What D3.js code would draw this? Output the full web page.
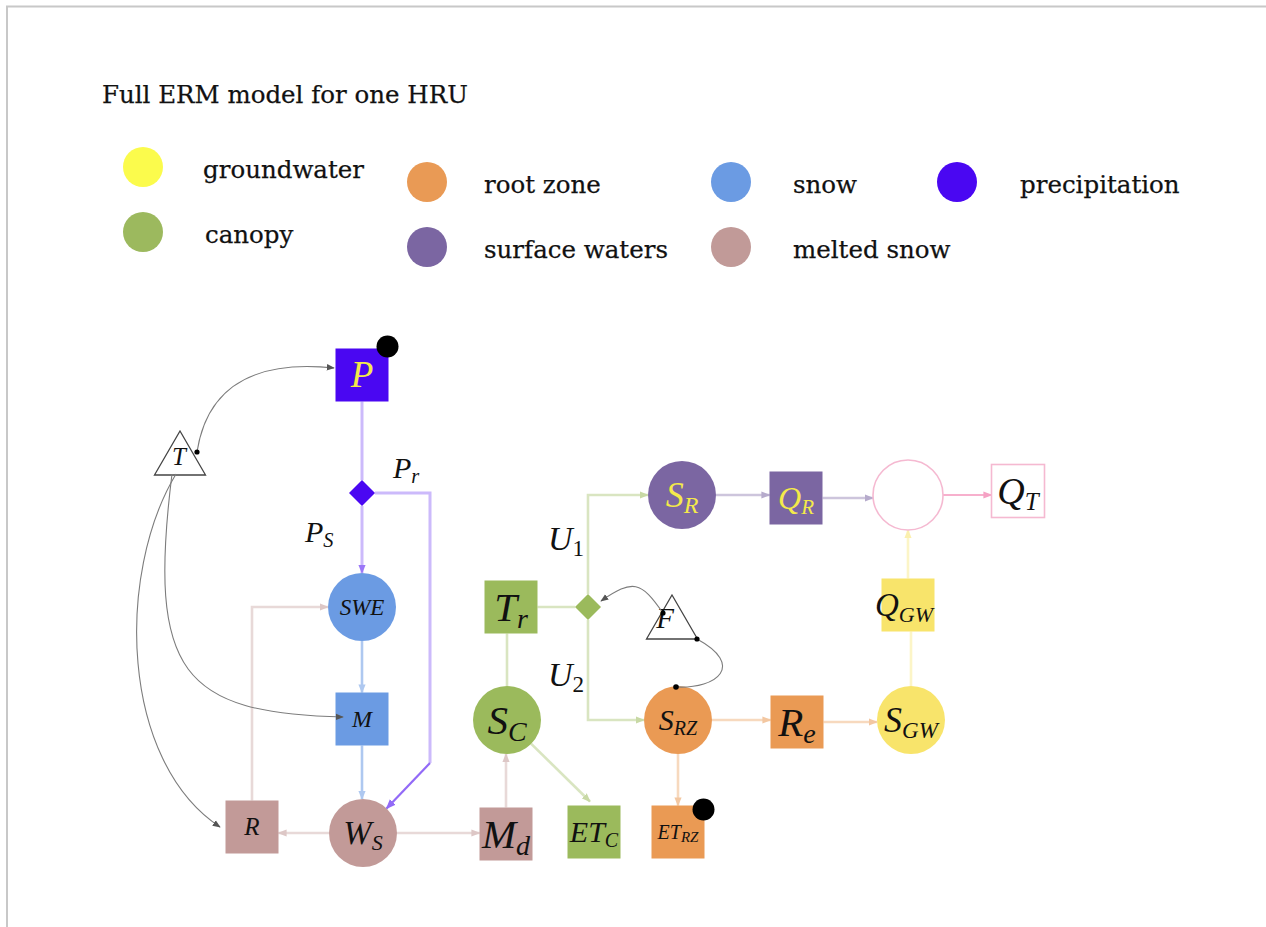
<!DOCTYPE html>
<html>
<head>
<meta charset="utf-8">
<script src="https://cdn.jsdelivr.net/npm/d3@7"></script>
<style>
  html, body { margin: 0; padding: 0; background: #fff; }
  svg { display: block; }
</style>
</head>
<body>
<div id="chart"></div>
<script>
// ---- data ----
const title = "Full ERM model for one HRU";

const legendLabels = ["groundwater", "canopy", "root zone", "surface waters", "snow", "melted snow", "precipitation"];
const legendColors = ["#fbfb4c", "#9cb95e", "#e99a55", "#7b66a2", "#6b9be3", "#c19a98", "#4a07f2"];

const nodeIds   = ["P", "D1", "SWE", "M", "WS", "R", "Md", "SC", "Tr", "ETC", "D2", "SR", "QR", "Sum", "QT", "SRZ", "Re", "SGW", "QGW", "ETRZ", "T", "F"];
const nodeMain  = ["P", "", "SWE", "M", "W", "R", "M", "S", "T", "ET", "", "S", "Q", "", "Q", "S", "R", "S", "Q", "ET", "T", "F"];
const nodeSub   = ["", "", "", "", "S", "", "d", "C", "r", "C", "", "R", "R", "", "T", "RZ", "e", "GW", "GW", "RZ", "", ""];
const nodeShape = ["square", "diamond", "circle", "square", "circle", "square", "square", "circle", "square", "square", "diamond",
                   "circle", "square", "ring", "box", "circle", "square", "circle", "square", "square", "triangle", "triangle"];
const nodeGroup = ["precipitation", "precipitation", "snow", "snow", "melted snow", "melted snow", "melted snow",
                   "canopy", "canopy", "canopy", "canopy", "surface waters", "surface waters", "total", "total",
                   "root zone", "root zone", "groundwater", "groundwater", "root zone", "driver", "driver"];
const stateNodes = ["P", "ETRZ"];   // nodes flagged with a black dot

const edgeFrom  = ["P", "D1", "D1", "SWE", "M", "WS", "WS", "R", "Md", "SC", "SC", "Tr", "D2", "D2", "SR", "QR", "Sum", "SRZ", "Re", "SRZ", "SGW", "QGW"];
const edgeTo    = ["D1", "SWE", "WS", "M", "WS", "R", "Md", "SWE", "SC", "Tr", "ETC", "D2", "SR", "SRZ", "QR", "Sum", "QT", "Re", "SGW", "ETRZ", "QGW", "Sum"];
const edgeArrow = [false, true, true, true, true, true, true, true, true, false, true, false, true, true, true, true, true, true, true, true, false, true];
const edgeRoute = ["line", "line", "pr", "line", "line", "line", "line", "vh", "line", "line", "top", "line", "vh", "vh", "line", "line", "line", "line", "line", "line", "line", "line"];

const driverFrom = ["T", "T", "T", "F", "F"];
const driverTo   = ["P", "M", "R", "D2", "SRZ"];

const flowMain = ["P", "P", "U", "U"];
const flowSub  = ["r", "S", "1", "2"];

// ---- layout (diagram grid units) ----
const layout = {
  P: [26.2, 7.5], D1: [26.2, 19.3], SWE: [26.2, 30.7], M: [26.2, 41.9], WS: [26.3, 53.3],
  R: [15.2, 52.7], Md: [40.6, 53.4], SC: [40.7, 42.0], Tr: [41.1, 30.7], ETC: [49.4, 53.2],
  D2: [48.8, 30.7], SR: [58.2, 19.5], QR: [69.6, 19.8], Sum: [80.8, 19.5], QT: [91.8, 19.1],
  SRZ: [57.8, 42.0], Re: [69.7, 42.2], SGW: [81.1, 42.0], QGW: [80.8, 30.5], ETRZ: [57.8, 53.2],
  T: [8.0, 16.0], F: [57.2, 32.4]
};
const prBend = [33.0, 46.3];
const flowPos = [[29.3, 17.8], [20.5, 24.2], [44.8, 25.0], [44.8, 38.6]];

const legendCol = [14.3, 42.7, 73.1, 95.7];   // x of circle, in tens of px
const legendRow = [18.2, 24.7];
const legendCell = [[0, 0], [0, 1], [1, 0], [1, 1], [2, 0], [2, 1], [3, 0]];
const legendGap = [60, 57, 62, 63];

// ---- styles ----
const groupColor = {
  groundwater: "#f8e46b", canopy: "#9bba5c", "root zone": "#ea9a54", "surface waters": "#7b66a2",
  snow: "#6b9be3", "melted snow": "#c29a98", precipitation: "#4a07f2", total: "#f07aaa", driver: "#777"
};
const labelSize = {
  P: [37], SWE: [23], M: [24], WS: [34, 22], R: [25], Md: [41, 28], SC: [41, 28], Tr: [41, 28],
  ETC: [30, 20], SR: [36, 24], QR: [32, 21], QT: [38, 25], SRZ: [30, 20], Re: [41, 28],
  SGW: [36, 23], QGW: [33, 22], ETRZ: [20, 15], T: [25], F: [29]
};
const yellowLabels = ["P", "SR", "QR"];
const SQ = 53, RC = 34, RSUM = 35, DIA = 13;
const mathFont = "'Liberation Serif', 'Times New Roman', serif";
const textFont = "'DejaVu Serif', serif";

const W = 1266, H = 927;
const svg = d3.select("#chart").append("svg").attr("width", W).attr("height", H);
const defs = svg.append("defs");

// page frame (top and left edge)
svg.append("path")
  .attr("d", `M7,${H} V6.5 H${W}`)
  .attr("fill", "none")
  .attr("stroke", "#c8c8c8")
  .attr("stroke-width", 2);

svg.append("text")
  .attr("x", 102).attr("y", 103)
  .attr("font-family", textFont)
  .attr("font-size", 24.5)
  .attr("fill", "#111")
  .attr("stroke", "#111").attr("stroke-width", 0.25)
  .text(title);

// legend
const lx = d3.scaleLinear().domain([0, 10]).range([0, 100]);
legendLabels.forEach((label, i) => {
  const [c, r] = legendCell[i];
  const cx = lx(legendCol[c]);
  const cy = lx(legendRow[r]) - (c === 0 ? 15 : 0);
  svg.append("circle").attr("cx", cx).attr("cy", cy).attr("r", 20).attr("fill", legendColors[i]);
  svg.append("text")
    .attr("x", cx + legendGap[c] + (i === 1 ? 2 : 0)).attr("y", cy + 11)
    .attr("font-family", textFont)
    .attr("font-size", 24.5)
    .attr("fill", "#111")
    .attr("stroke", "#111").attr("stroke-width", 0.25)
    .text(label);
});

// ---- diagram ----
const x = d3.scaleLinear().domain([0, 100]).range([100, 1100]);
const y = d3.scaleLinear().domain([0, 60]).range([300, 900]);
const idx = id => nodeIds.indexOf(id);
const pos = id => ({ x: x(layout[id][0]), y: y(layout[id][1]) });
const shapeOf = id => nodeShape[idx(id)];
const light = (c, k) => d3.interpolateRgb(c, "#fff")(k);

function boundary(id, tx, ty) {
  const c = pos(id), s = shapeOf(id);
  const dx = tx - c.x, dy = ty - c.y;
  let t;
  if (s === "circle") t = RC / Math.hypot(dx, dy);
  else if (s === "ring") t = RSUM / Math.hypot(dx, dy);
  else if (s === "diamond") t = DIA / (Math.abs(dx) + Math.abs(dy));
  else t = (SQ / 2) / Math.max(Math.abs(dx), Math.abs(dy));
  return { x: c.x + dx * t, y: c.y + dy * t };
}

let markerCount = 0;
function marker(color, size) {
  const id = "arr" + (markerCount++);
  defs.append("marker")
    .attr("id", id)
    .attr("viewBox", "0 -5 10 10")
    .attr("refX", 9).attr("refY", 0)
    .attr("markerWidth", size).attr("markerHeight", size)
    .attr("markerUnits", "userSpaceOnUse")
    .attr("orient", "auto")
    .append("path")
    .attr("d", "M0,-4L10,0L0,4Z")
    .attr("fill", color);
  return `url(#${id})`;
}

const edgeLayer = svg.append("g");
edgeFrom.forEach((from, i) => {
  const to = edgeTo[i];
  const group = nodeGroup[idx(from)];
  const base = groupColor[group];
  const mix = group === "precipitation" ? 0.72 : (group === "snow" ? 0.45 : 0.62);
  const stroke = from === "Sum" ? "#f7b0cd" : light(base, mix);
  const width = group === "precipitation" ? 3 : (from === "Sum" ? 1.8 : 2.6);
  const a = pos(from), b = pos(to);
  const p = d3.path();
  let tail = null;
  if (edgeRoute[i] === "vh") {
    const up = b.y < a.y;
    const s = boundary(from, a.x, up ? a.y - 100 : a.y + 100);
    const e = boundary(to, b.x - 100, b.y);
    p.moveTo(s.x, s.y); p.lineTo(s.x, b.y); p.lineTo(e.x, e.y);
  } else if (edgeRoute[i] === "pr") {
    const s = boundary(from, a.x + 100, a.y);
    const bx = x(prBend[0]), by = y(prBend[1]);
    const e = boundary(to, bx, by);
    p.moveTo(s.x, s.y); p.lineTo(bx, s.y); p.lineTo(bx, by);
    tail = { x1: bx, y1: by, x2: e.x, y2: e.y };
  } else if (edgeRoute[i] === "top") {
    const tx = b.x, ty = b.y - SQ / 2;
    const s = boundary(from, tx, ty);
    p.moveTo(s.x, s.y); p.lineTo(tx - 4, ty - 4);
  } else {
    let tx = b.x, ty = b.y;
    if (Math.abs(b.y - a.y) < 8) ty = a.y;
    if (Math.abs(b.x - a.x) < 8) tx = a.x;
    const s = boundary(from, tx, ty);
    let e = boundary(to, a.x, a.y);
    if (ty === a.y) e = { x: e.x, y: a.y };
    if (tx === a.x) e = { x: a.x, y: e.y };
    if (shapeOf(to) === "box") e = { x: b.x - SQ / 2, y: a.y };
    p.moveTo(s.x, s.y); p.lineTo(e.x, e.y);
  }
  const path = edgeLayer.append("path")
    .attr("d", p.toString())
    .attr("fill", "none")
    .attr("stroke", stroke)
    .attr("stroke-width", width)
    .attr("stroke-linejoin", "miter");
  if (tail) {
    const dark = light(base, 0.4);
    edgeLayer.append("line")
      .attr("x1", tail.x1).attr("y1", tail.y1).attr("x2", tail.x2).attr("y2", tail.y2)
      .attr("stroke", dark).attr("stroke-width", 2.2)
      .attr("marker-end", marker(dark, 10));
  } else if (edgeArrow[i]) {
    path.attr("marker-end", marker(light(base, from === "Sum" ? 0.3 : 0.45), 9));
  }
});

// nodes
const nodeLayer = svg.append("g");
nodeIds.forEach((id, i) => {
  const c = pos(id), s = nodeShape[i];
  const fill = groupColor[nodeGroup[i]];
  if (s === "square") {
    nodeLayer.append("rect").attr("x", c.x - SQ / 2).attr("y", c.y - SQ / 2)
      .attr("width", SQ).attr("height", SQ).attr("fill", fill);
  } else if (s === "box") {
    nodeLayer.append("rect").attr("x", c.x - SQ / 2).attr("y", c.y - SQ / 2)
      .attr("width", SQ).attr("height", SQ).attr("fill", "#fff")
      .attr("stroke", "#f5b9d1").attr("stroke-width", 1.6);
  } else if (s === "circle") {
    nodeLayer.append("circle").attr("cx", c.x).attr("cy", c.y).attr("r", RC).attr("fill", fill);
  } else if (s === "ring") {
    nodeLayer.append("circle").attr("cx", c.x).attr("cy", c.y).attr("r", RSUM)
      .attr("fill", "#fff").attr("stroke", "#f5b9d1").attr("stroke-width", 1.6);
  } else if (s === "diamond") {
    nodeLayer.append("path")
      .attr("d", `M${c.x},${c.y - DIA}L${c.x + DIA},${c.y}L${c.x},${c.y + DIA}L${c.x - DIA},${c.y}Z`)
      .attr("fill", fill);
  } else if (s === "triangle") {
    nodeLayer.append("path")
      .attr("d", `M${c.x},${c.y - 29}L${c.x + 25.5},${c.y + 15}L${c.x - 25.5},${c.y + 15}Z`)
      .attr("fill", "none").attr("stroke", "#444").attr("stroke-width", 1.3);
  }
});

// node labels
function mathLabel(main, sub, size, subSize, color, cx, baseline) {
  const t = nodeLayer.append("text")
    .attr("x", cx).attr("y", baseline)
    .attr("text-anchor", "middle")
    .attr("font-family", mathFont)
    .attr("font-style", "italic")
    .attr("fill", color);
  t.append("tspan").attr("font-size", size).text(main);
  if (sub) {
    t.append("tspan")
      .attr("font-size", subSize)
      .attr("dy", size * 0.17)
      .attr("font-style", /\d/.test(sub) ? "normal" : "italic")
      .text(sub);
  }
  return t;
}

nodeIds.forEach((id, i) => {
  if (!nodeMain[i]) return;
  const c = pos(id);
  const [size, subSize] = labelSize[id];
  const color = yellowLabels.includes(id) ? "#f4ea4a" : "#111";
  const dx = id === "F" ? -7 : (id === "T" ? -1 : (id === "QGW" ? -4 : 0));
  const dy = id === "F" ? -6 : (id === "T" ? -3 : 0);
  mathLabel(nodeMain[i], nodeSub[i], size, subSize, color, c.x + dx, c.y + dy + size * 0.33);
});

// black state dots
stateNodes.forEach(id => {
  const c = pos(id);
  nodeLayer.append("circle")
    .attr("cx", c.x + SQ / 2 - 1).attr("cy", c.y - SQ / 2 + (id === "P" ? -2 : 4))
    .attr("r", 11).attr("fill", "#000");
});

// driver curves (temperature T and F)
const curveGeom = {
  "T-P":   { s: [17, -8],  e: [-28, -7], c1: [8, -52],   c2: [-95, -10] },
  "T-M":   { s: [-8, 14],  e: [-19, -2], c1: [-25, 200], c2: [-160, -4] },
  "T-R":   { s: [-4, 14],  e: [-32, 0],  c1: [-60, 100], c2: [-100, -66] },
  "F-D2":  { s: [-9, -11], e: [13, -6],  c1: [-22, -32], c2: [32, -22] },
  "F-SRZ": { s: [25, 15],  e: [-2, -RC + 1], c1: [48, 26], c2: [42, 2] }
};
const gray = "#7c7c7c";
const grayArrow = marker("#555", 8);
driverFrom.forEach((from, i) => {
  const to = driverTo[i];
  const g = curveGeom[from + "-" + to];
  const a = pos(from), b = pos(to);
  const s = { x: a.x + g.s[0], y: a.y + g.s[1] };
  const e = { x: b.x + g.e[0], y: b.y + g.e[1] };
  const p = d3.path();
  p.moveTo(s.x, s.y);
  p.bezierCurveTo(s.x + g.c1[0], s.y + g.c1[1], e.x + g.c2[0], e.y + g.c2[1], e.x, e.y);
  const path = svg.append("path")
    .attr("d", p.toString())
    .attr("fill", "none")
    .attr("stroke", gray)
    .attr("stroke-width", 1.1);
  if (to === "SRZ") {
    svg.append("circle").attr("cx", e.x).attr("cy", e.y).attr("r", 2.8).attr("fill", "#000");
  } else {
    path.attr("marker-end", grayArrow);
  }
  if (from === "F" || i === 0) {
    svg.append("circle").attr("cx", s.x).attr("cy", s.y).attr("r", 2.6).attr("fill", "#000");
  }
});

// flow labels
flowMain.forEach((m, i) => {
  const px = x(flowPos[i][0]), py = y(flowPos[i][1]);
  const size = m === "U" ? 34 : 30;
  const t = svg.append("text")
    .attr("x", px).attr("y", py)
    .attr("font-family", mathFont)
    .attr("font-style", "italic")
    .attr("fill", "#111");
  t.append("tspan").attr("font-size", size).text(m);
  t.append("tspan")
    .attr("font-size", size * 0.68)
    .attr("dy", size * 0.17)
    .attr("font-style", /\d/.test(flowSub[i]) ? "normal" : "italic")
    .text(flowSub[i]);
});
</script>
</body>
</html>
